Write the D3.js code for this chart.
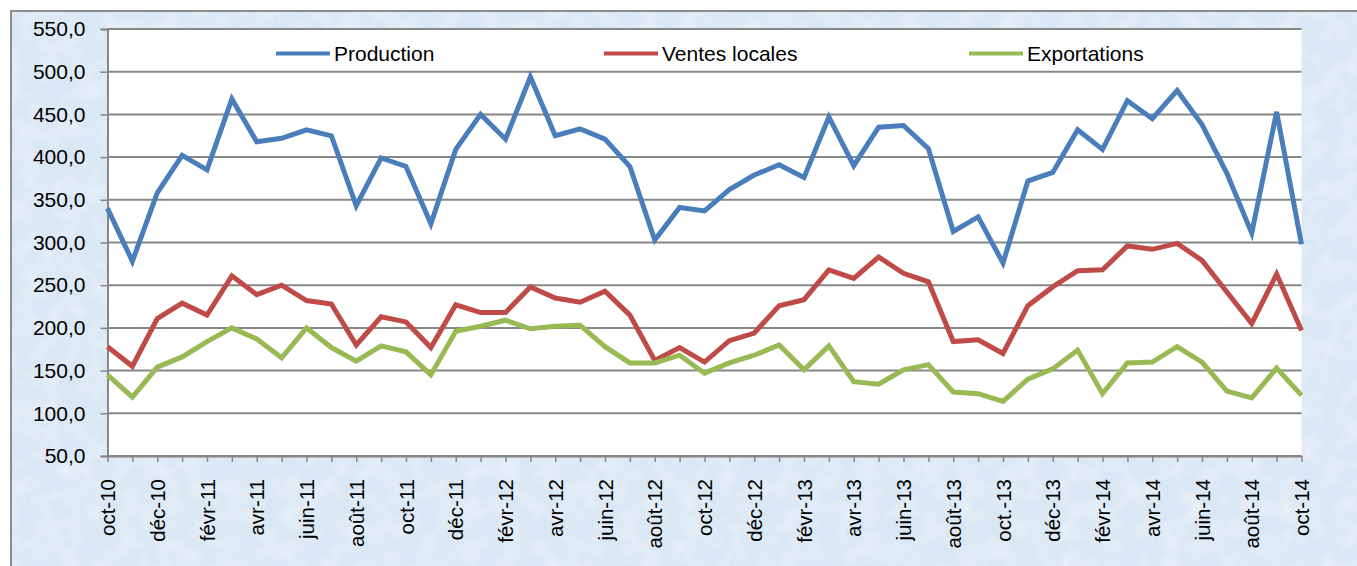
<!DOCTYPE html>
<html><head><meta charset="utf-8">
<script src="https://cdn.jsdelivr.net/npm/d3@7"></script>
<style>
html,body{margin:0;padding:0;background:#fff;overflow:hidden;}
svg{display:block;font-family:"Liberation Sans",Arial,sans-serif;}
</style></head><body>
<svg id="chart" width="1357" height="566"></svg>
<script>
const months = ["oct-10","nov-10","déc-10","janv-11","févr-11","mars-11","avr-11","mai-11","juin-11","juil-11","août-11","sept-11",
  "oct-11","nov-11","déc-11","janv-12","févr-12","mars-12","avr-12","mai-12","juin-12","juil-12","août-12","sept-12",
  "oct-12","nov-12","déc-12","janv-13","févr-13","mars-13","avr-13","mai-13","juin-13","juil-13","août-13","sept-13",
  "oct.-13","nov-13","déc-13","janv-14","févr-14","mars-14","avr-14","mai-14","juin-14","juil-14","août-14","sept-14","oct-14"];
const tickLabels = ["oct-10","déc-10","févr-11","avr-11","juin-11","août-11","oct-11","déc-11","févr-12","avr-12","juin-12","août-12",
  "oct-12","déc-12","févr-13","avr-13","juin-13","août-13","oct.-13","déc-13","févr-14","avr-14","juin-14","août-14","oct-14"];
const yTicks = [50,100,150,200,250,300,350,400,450,500,550];
const seriesNames = ["Production","Ventes locales","Exportations"];
const seriesColors = ["#4a7ebb","#be4b48","#98b954"];
const production = [340,278,358,402,385,468,418,422,432,425,343,399,389,322,409,450,421,494,425,433,421,389,303,341,337,362,379,391,376,447,390,435,437,410,313,330,276,372,382,432,409,466,445,478,438,381,311,453,298];
const ventesLocales = [178,155,211,229,215,261,239,250,232,228,180,213,207,177,227,218,218,248,235,230,243,215,162,177,160,185,194,226,233,268,258,283,264,254,184,186,170,226,248,267,268,296,292,299,279,242,205,263,197];
const exportations = [145,119,154,166,184,200,187,165,200,177,161,179,172,145,196,202,209,199,202,203,178,159,159,168,147,159,168,180,151,179,137,134,151,157,125,123,114,140,152,174,123,159,160,178,160,126,118,153,121];
const seriesData = [production, ventesLocales, exportations];

const svg = d3.select("#chart");
const W = 1357, H = 566;

// textured light-blue background
const defs = svg.append("defs");
const f = defs.append("filter").attr("id","tex").attr("x",0).attr("y",0).attr("width","100%").attr("height","100%");
f.append("feTurbulence").attr("type","fractalNoise").attr("baseFrequency","0.05").attr("numOctaves",3).attr("seed",7).attr("result","n");
f.append("feColorMatrix").attr("in","n").attr("type","matrix")
  .attr("values","0 0 0 0 1  0 0 0 0 1  0 0 0 0 1  0 0 0 1.2 -0.45");
svg.append("rect").attr("x",10).attr("y",10).attr("width",W).attr("height",H).attr("fill","#dae7f4");
svg.append("rect").attr("x",10).attr("y",10).attr("width",W).attr("height",H).attr("filter","url(#tex)").attr("opacity",0.6);
svg.append("rect").attr("x",11).attr("y",11).attr("width",W+10).attr("height",H+10)
  .attr("fill","none").attr("stroke","#8c8c8c").attr("stroke-width",2);

const x0 = 107.5, x1 = 1301.5, yTop = 29, yBot = 456;
const x = d3.scalePoint().domain(months).range([x0, x1]);
const y = d3.scaleLinear().domain([50,550]).range([yBot, yTop]);

// plot area
svg.append("rect").attr("x",x0).attr("y",yTop).attr("width",x1-x0).attr("height",yBot-yTop).attr("fill","#fff");

// gridlines
svg.append("g").selectAll("line").data(yTicks).join("line")
  .attr("x1",x0).attr("x2",x1).attr("y1",d=>y(d)).attr("y2",d=>y(d))
  .attr("stroke","#878787").attr("stroke-width",2);

// y axis
const yAxis = svg.append("g").attr("transform",`translate(${x0},0)`)
  .call(d3.axisLeft(y).tickValues(yTicks).tickSize(7).tickPadding(15)
    .tickFormat(d=>d.toFixed(1).replace(".",",")));
yAxis.select(".domain").attr("stroke","#878787").attr("stroke-width",2);
yAxis.selectAll(".tick line").attr("stroke","#878787").attr("stroke-width",1.5);
yAxis.selectAll("text").attr("font-size",21).attr("fill","#000").attr("font-family","'Liberation Sans',Arial,sans-serif");

// x axis
const xAxis = svg.append("g").attr("transform",`translate(0,${yBot})`)
  .call(d3.axisBottom(x).tickSize(6).tickSizeOuter(0).tickFormat(d=>tickLabels.includes(d)?d:""));
xAxis.select(".domain").attr("stroke","#878787").attr("stroke-width",2);
xAxis.selectAll(".tick line").attr("stroke","#878787").attr("stroke-width",1.5);
xAxis.selectAll("text").attr("font-size",20.5).attr("fill","#000")
  .attr("font-family","'Liberation Sans',Arial,sans-serif")
  .attr("text-anchor","end").attr("transform","rotate(-90)")
  .attr("x",-23).attr("y",0).attr("dy","0.35em");

// series lines
const line = d3.line().x((d,i)=>x(months[i])).y(d=>y(d));
seriesData.forEach((data,k)=>{
  svg.append("path").datum(data).attr("d",line).attr("fill","none")
    .attr("stroke",seriesColors[k]).attr("stroke-width",5).attr("stroke-linejoin","miter").attr("stroke-miterlimit",4);
});

// legend
const legendX = [276, 604, 969];
const lg = svg.append("g");
seriesNames.forEach((n,k)=>{
  lg.append("line").attr("x1",legendX[k]).attr("x2",legendX[k]+54).attr("y1",53.5).attr("y2",53.5)
    .attr("stroke",seriesColors[k]).attr("stroke-width",4);
  lg.append("text").attr("x",legendX[k]+58).attr("y",53.5).attr("dy","0.35em")
    .attr("font-size",21).attr("fill","#000").text(n);
});
</script>
</body></html>
